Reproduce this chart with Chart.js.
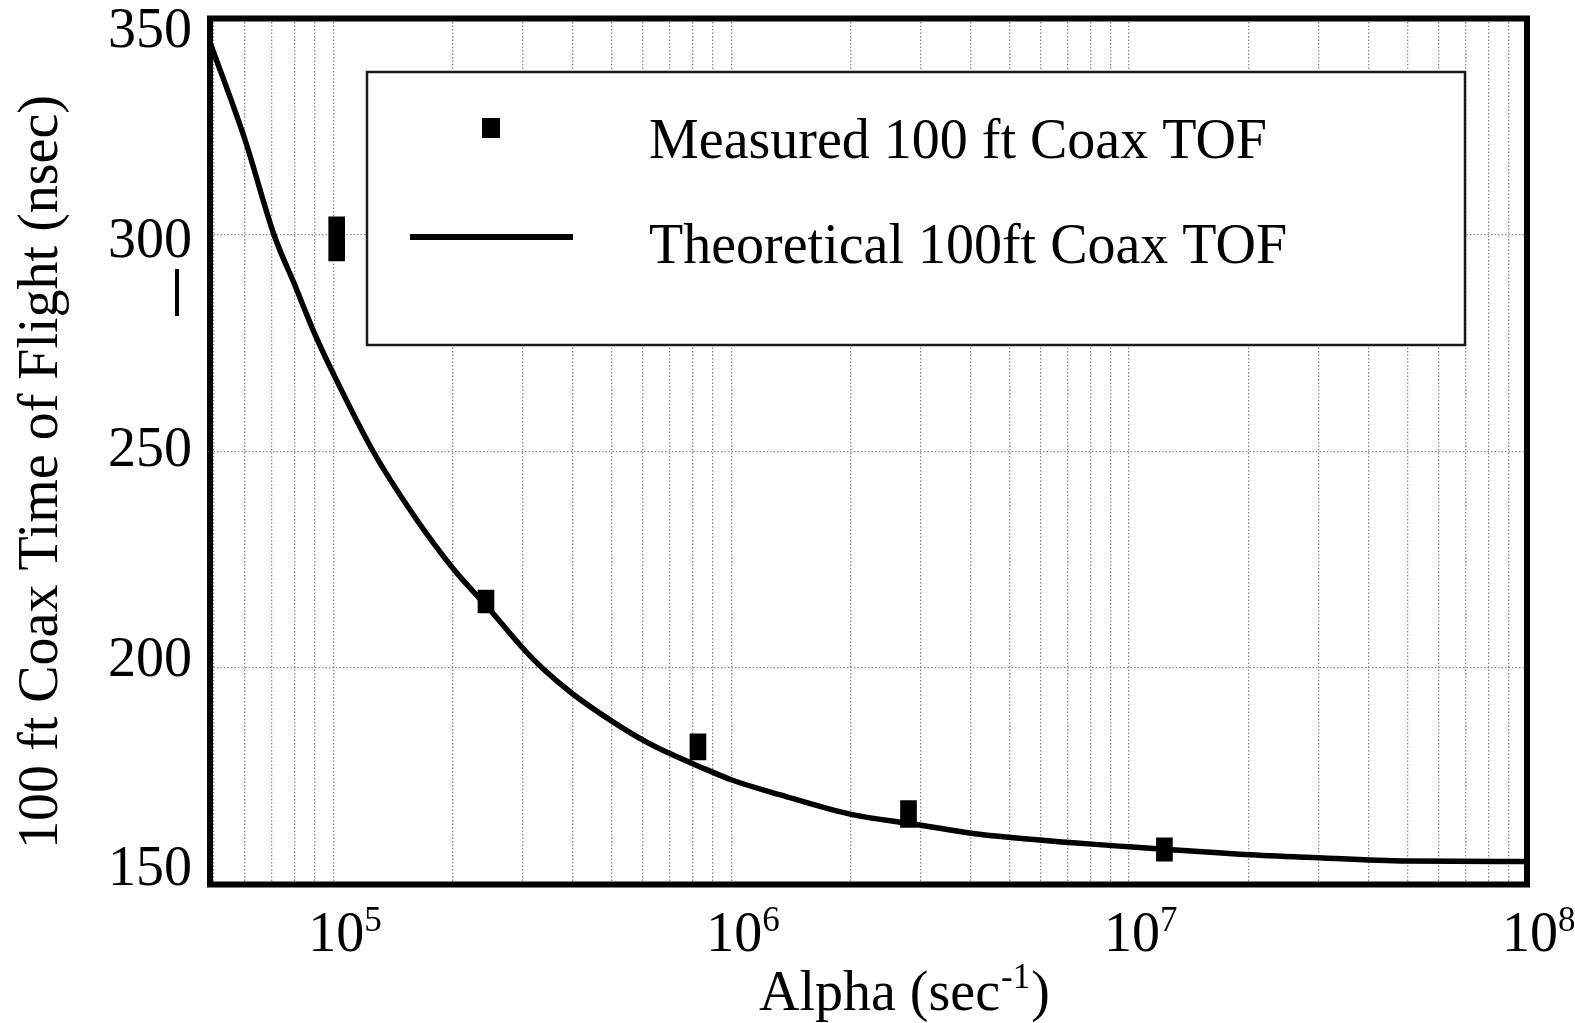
<!DOCTYPE html>
<html>
<head>
<meta charset="utf-8">
<title>100 ft Coax Time of Flight</title>
<script src="https://cdn.jsdelivr.net/npm/chart.js@4.4.1/dist/chart.umd.min.js"></script>
<style>
  html, body { margin: 0; padding: 0; background: #fff; }
  canvas { display: block; }
</style>
</head>
<body>
<canvas id="grafico-tof" width="1575" height="1023"></canvas>
<script>
// Curva teórica (alpha em 1/s, TOF em ns)
const curveAlpha = [4.9e4, 6.0e4, 7.1e4, 8.0e4, 9.0e4, 1.0e5, 1.26e5, 1.6e5, 2.0e5, 2.5e5, 3.0e5, 3.35e5, 4.0e5, 5.0e5, 6.1e5, 7.1e5, 8.2e5, 1.0e6, 1.33e6, 2.0e6, 2.9e6, 4.2e6, 1.0e7, 1.9e7, 2.8e7, 5.0e7, 1.0e8];
const curveTof = [344.5, 322, 300, 288.5, 277, 268, 250, 235, 223, 213, 204.5, 200, 194, 187.8, 183, 180, 177.5, 174.2, 170.7, 166.2, 163.9, 161.6, 158.7, 157.0, 156.3, 155.4, 155.3];

// Medidas: faixa mínima/máxima de cada ponto
const measAlpha = [1.02e5, 2.42e5, 8.25e5, 2.79e6, 1.227e7];
const measLow = [294, 212.7, 178.8, 163.2, 155.4];
const measHigh = [304.2, 218, 184.8, 169.4, 160.8];

const yTicks = [150, 200, 250, 300, 350];
const xDecades = [5, 6, 7, 8];
const xMin = 4.9e4;
const xMax = 1e8;

const seriesLabels = ["Measured 100 ft Coax TOF", "Theoretical 100ft Coax TOF"];
const xTitle = "Alpha (sec";
const xTitleSup = "-1";
const yTitle = "100 ft Coax Time of Flight (nsec)";

const serif = '"Liberation Serif", "Times New Roman", serif';

// --- Textos, moldura e legenda desenhados por cima ---
const decoracao = {
    id: "decoracao",
    afterDraw(chart) {
        const { ctx, chartArea: a, scales: { x, y } } = chart;
        ctx.save();

        // moldura grossa
        ctx.strokeStyle = "#000";
        ctx.lineWidth = 6;
        ctx.strokeRect(a.left, a.top, a.right - a.left, a.bottom - a.top);

        ctx.fillStyle = "#000";

        // rótulos do eixo y
        ctx.font = "56px " + serif;
        ctx.textAlign = "right";
        ctx.textBaseline = "middle";
        const mid = (a.top + a.bottom) / 2;
        yTicks.forEach(v => {
            const py = y.getPixelForValue(v);
            ctx.fillText(String(v), a.left - 18, mid + (py - mid) * 0.968);
        });

        // pequeno traço ao lado do eixo
        ctx.lineWidth = 4;
        ctx.beginPath();
        ctx.moveTo(177, 269);
        ctx.lineTo(177, 316);
        ctx.stroke();

        // rótulos do eixo x: 10^n
        ctx.textBaseline = "alphabetic";
        xDecades.forEach(d => {
            const px = x.getPixelForValue(Math.pow(10, d)) + 3;
            ctx.font = "56px " + serif;
            ctx.textAlign = "center";
            ctx.fillText("10", px, a.bottom + 66);
            ctx.font = "35px " + serif;
            ctx.textAlign = "left";
            ctx.fillText(String(d), px + 28, a.bottom + 46);
        });

        // título do eixo x
        ctx.textAlign = "left";
        ctx.font = "56px " + serif;
        let tx = 759;
        const ty = 1010;
        ctx.fillText(xTitle, tx, ty);
        tx += ctx.measureText(xTitle).width + 1;
        ctx.font = "35px " + serif;
        ctx.fillText(xTitleSup, tx, ty - 22);
        tx += ctx.measureText(xTitleSup).width + 1;
        ctx.font = "56px " + serif;
        ctx.fillText(")", tx, ty);

        // título do eixo y
        ctx.save();
        ctx.translate(57, 472);
        ctx.rotate(-Math.PI / 2);
        ctx.textAlign = "center";
        ctx.fillText(yTitle, 0, 0);
        ctx.restore();

        // legenda
        ctx.fillStyle = "#fff";
        ctx.fillRect(367, 72, 1098, 273);
        ctx.strokeStyle = "#1a1a1a";
        ctx.lineWidth = 2.5;
        ctx.strokeRect(367, 72, 1098, 273);

        ctx.fillStyle = "#000";
        ctx.fillRect(482, 118, 18, 20);
        ctx.strokeStyle = "#000";
        ctx.lineWidth = 6;
        ctx.beginPath();
        ctx.moveTo(410, 237);
        ctx.lineTo(573, 237);
        ctx.stroke();

        ctx.font = "56px " + serif;
        ctx.textAlign = "left";
        ctx.fillText(chart.data.datasets[0].label, 649, 158);
        ctx.fillText(chart.data.datasets[1].label, 649, 263);

        ctx.restore();
    }
};

const ctx = document.getElementById("grafico-tof");

new Chart(ctx, {
    type: "bar",
    data: {
        datasets: [
            {
                type: "bar",
                label: seriesLabels[0],
                data: measAlpha.map((a, i) => ({ x: a, y: [measLow[i], measHigh[i]] })),
                backgroundColor: "#000",
                borderWidth: 0,
                barThickness: 16,
                grouped: false,
                order: 0
            },
            {
                type: "line",
                label: seriesLabels[1],
                data: curveAlpha.map((a, i) => ({ x: a, y: curveTof[i] })),
                borderColor: "#000",
                borderWidth: 5.5,
                borderJoinStyle: "round",
                pointRadius: 0,
                cubicInterpolationMode: "monotone",
                fill: false,
                order: 1
            }
        ]
    },
    options: {
        responsive: false,
        animation: false,
        layout: { padding: { left: 210, top: 18.5, right: 48, bottom: 138.5 } },
        plugins: {
            legend: { display: false },
            tooltip: { enabled: false }
        },
        scales: {
            x: {
                type: "logarithmic",
                min: xMin,
                max: xMax,
                offset: false,
                afterBuildTicks(scale) {
                    const ticks = [];
                    for (let d = 4; d <= 7; d++) {
                        for (let m = 1; m <= 9; m++) {
                            const v = m * Math.pow(10, d);
                            if (v >= xMin && v <= xMax) ticks.push({ value: v });
                        }
                    }
                    ticks.push({ value: xMax });
                    scale.ticks = ticks;
                },
                ticks: { display: false },
                grid: { color: "#8a8a8a", lineWidth: 1.3, drawTicks: false, offset: false },
                border: { display: false, dash: [1.5, 2] }
            },
            y: {
                type: "linear",
                min: 150,
                max: 350,
                afterBuildTicks(scale) {
                    scale.ticks = yTicks.map(v => ({ value: v }));
                },
                ticks: { display: false },
                grid: { color: "#8a8a8a", lineWidth: 1.3, drawTicks: false },
                border: { display: false, dash: [1.5, 2] }
            }
        }
    },
    plugins: [decoracao]
});
</script>
</body>
</html>
